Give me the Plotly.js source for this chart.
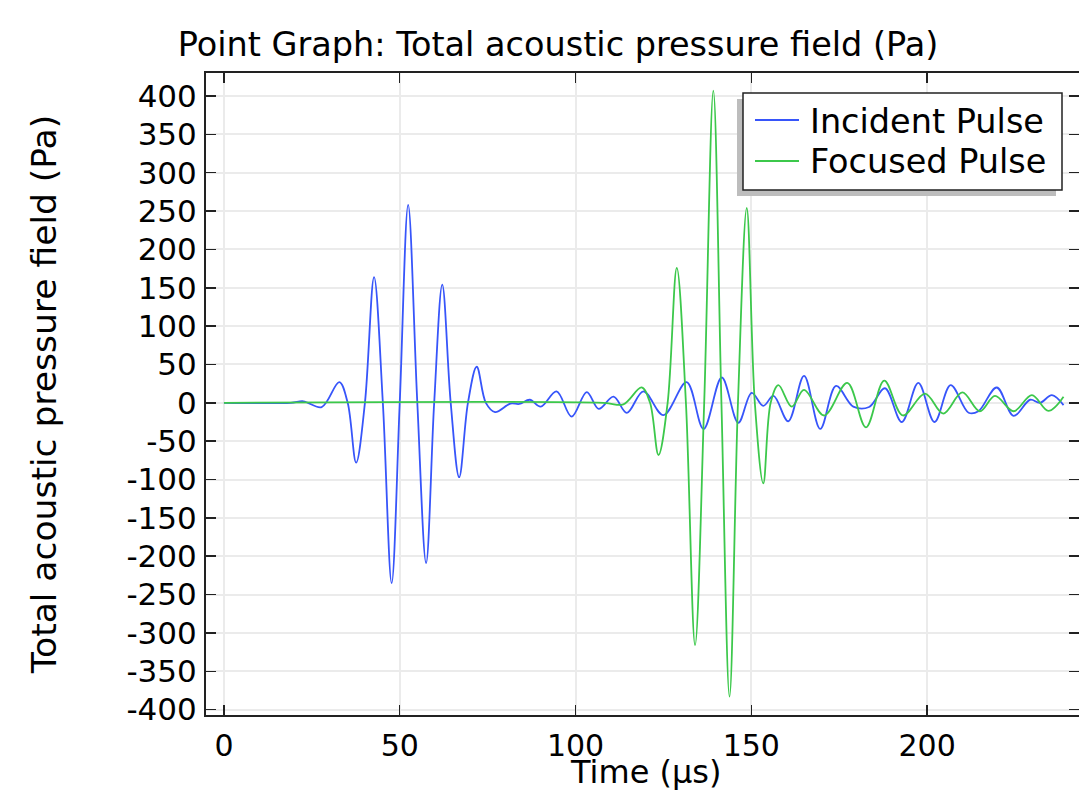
<!DOCTYPE html>
<html>
<head>
<meta charset="utf-8">
<script src="https://cdn.plot.ly/plotly-3.0.1.min.js"></script>
<style>html,body{margin:0;padding:0;background:#fff;}#chart{width:1079px;height:793px;}</style>
</head>
<body>
<div id="chart"></div>
<script>
// Incident pulse (blue) — time in µs, pressure in Pa
var incidentTime = [0, 19, 22.6, 27.8, 32.8, 35.2, 37.6, 40.1, 42.7, 45.2, 47.7, 50.0, 52.4, 55.0, 57.5, 59.8, 62.1, 64.5, 66.9, 69.4, 71.9, 74.5, 77.1, 81.5, 84, 87, 90.1, 94.6, 98.9, 103.2, 106.6, 110.8, 114.6, 119.3, 125, 131.6, 136.4, 141.6, 146.3, 150.1, 153.4, 156.3, 160.5, 165, 169.6, 174.1, 179, 183.5, 188, 192.8, 197.5, 202.1, 206.7, 211.8, 214.6, 219.8, 224.6, 229.3, 232.1, 235.5, 238.8];
var incidentPressure = [0, 0, 2, -5.5, 27, 0, -78, 0, 164, 0, -235, 0, 258, 0, -209, 0, 154, 0, -97, 0, 47, 0, -12, -1, -1.5, 4, -5, 15, -18, 14, -8, 8, -13, 15, -16, 27, -34, 33, -26, 13, -4, 9, -24, 35, -34, 22, -5, -5.5, 19, -25, 26, -25, 23, -13, -11, 20, -17, 4, 0, 10, -3];

// Focused pulse (green)
var focusedTime = [0, 108, 113.6, 118.8, 121.2, 123.6, 126.2, 128.8, 131.4, 134, 136.6, 139.2, 141.5, 143.8, 146.2, 148.7, 151, 153.4, 155.5, 157.7, 161.5, 165, 170.7, 177.3, 182.6, 187.8, 193.1, 199.4, 204.6, 210, 215, 219.3, 224.6, 229.8, 234.5, 238.8];
var focusedPressure = [0, 0, -2, 20, 0, -68, 0, 176, 0, -316, 0, 407, 0, -383, 0, 254, 0, -105, 0, 23, -5, 17, -16.5, 26, -32, 29, -16.5, 12, -14, 13.5, -11, 9, -11, 10, -10.5, 8];

var seriesNames = ["Incident Pulse", "Focused Pulse"];
var seriesColors = ["rgb(55,85,250)", "rgb(60,200,75)"];

var xTickVals = [0, 50, 100, 150, 200];
var xTickText = ["0", "50", "100", "150", "200"];
var yTickVals = [-400, -350, -300, -250, -200, -150, -100, -50, 0, 50, 100, 150, 200, 250, 300, 350, 400];
var yTickText = ["-400", "-350", "-300", "-250", "-200", "-150", "-100", "-50", "0", "50", "100", "150", "200", "250", "300", "350", "400"];

var FONT = "DejaVu Sans, Liberation Sans, sans-serif";

var traces = [
  {x: incidentTime, y: incidentPressure, name: seriesNames[0], type: "scatter", mode: "lines", showlegend: false,
   line: {color: seriesColors[0], width: 1.8, shape: "spline", smoothing: 1}},
  {x: focusedTime, y: focusedPressure, name: seriesNames[1], type: "scatter", mode: "lines", showlegend: false,
   line: {color: seriesColors[1], width: 1.8, shape: "spline", smoothing: 1}}
];

var L = 206, R = 1079, T = 73, B = 715;
var W = R - L, H = B - T;
function px(x) { return (x - L) / W; }
function py(y) { return (B - y) / H; }

// legend box geometry (pixels)
var LB = {x0: 743, x1: 1062, y0: 93, y1: 190, shadow: 6};
var legendRows = [121, 162];

var shapes = [
  {type: "rect", xref: "paper", yref: "paper", layer: "above",
   x0: px(LB.x0 - LB.shadow), x1: px(LB.x1 - LB.shadow), y0: py(LB.y1 + LB.shadow), y1: py(LB.y0 + LB.shadow),
   fillcolor: "#bdbdbd", line: {width: 0}},
  {type: "rect", xref: "paper", yref: "paper", layer: "above",
   x0: px(LB.x0), x1: px(LB.x1), y0: py(LB.y1), y1: py(LB.y0),
   fillcolor: "#fff", line: {color: "#222", width: 1.5}}
];
var annotations = [];
for (var i = 0; i < seriesNames.length; i++) {
  shapes.push({type: "line", xref: "paper", yref: "paper", layer: "above",
    x0: px(755), x1: px(799), y0: py(legendRows[i] - 1), y1: py(legendRows[i] - 1),
    line: {color: seriesColors[i], width: 1.8}});
  annotations.push({xref: "paper", yref: "paper", x: px(808), y: py(legendRows[i]), xanchor: "left", yanchor: "middle",
    text: seriesNames[i], showarrow: false, font: {family: FONT, size: 33.5, color: "#000"}});
}
// x-axis title
annotations.push({xref: "paper", yref: "paper", x: px(645), y: py(772), xanchor: "center", yanchor: "middle",
  text: "Time (µs)", showarrow: false, borderpad: 0, font: {family: FONT, size: 32, color: "#000"}});

var layout = {
  width: 1079, height: 793,
  margin: {l: L, r: 1079 - R, t: T, b: 793 - B, pad: 0},
  paper_bgcolor: "#fff", plot_bgcolor: "#fff",
  font: {family: FONT, color: "#000"},
  title: {text: "Point Graph: Total acoustic pressure field (Pa)", font: {family: FONT, size: 33.5, color: "#000"},
          x: 558 / 1079, xref: "container", xanchor: "center", y: 1 - 44 / 793, yref: "container", yanchor: "middle"},
  xaxis: {range: [-5.1, 243.2], tickvals: xTickVals, ticktext: xTickText, ticks: "inside", ticklen: 10, tickwidth: 1.5,
          tickcolor: "#222", showline: true, linecolor: "#222", linewidth: 2, mirror: "allticks",
          showgrid: true, gridcolor: "#ebebeb", gridwidth: 2, zeroline: false,
          tickfont: {family: FONT, size: 30, color: "#000"}, ticklabelstandoff: 3},
  yaxis: {range: [-407, 430], tickvals: yTickVals, ticktext: yTickText, ticks: "inside", ticklen: 10, tickwidth: 1.5,
          tickcolor: "#222", showline: true, linecolor: "#222", linewidth: 2, mirror: "allticks",
          showgrid: true, gridcolor: "#ebebeb", gridwidth: 2, zeroline: false,
          tickfont: {family: FONT, size: 31, color: "#000"}, ticklabelstandoff: 1,
          title: {text: "Total acoustic pressure field (Pa)", font: {family: FONT, size: 34.5, color: "#000"}, standoff: 59}},
  showlegend: false,
  shapes: shapes,
  annotations: annotations
};

Plotly.newPlot("chart", traces, layout, {displayModeBar: false, staticPlot: true});
</script>
</body>
</html>
